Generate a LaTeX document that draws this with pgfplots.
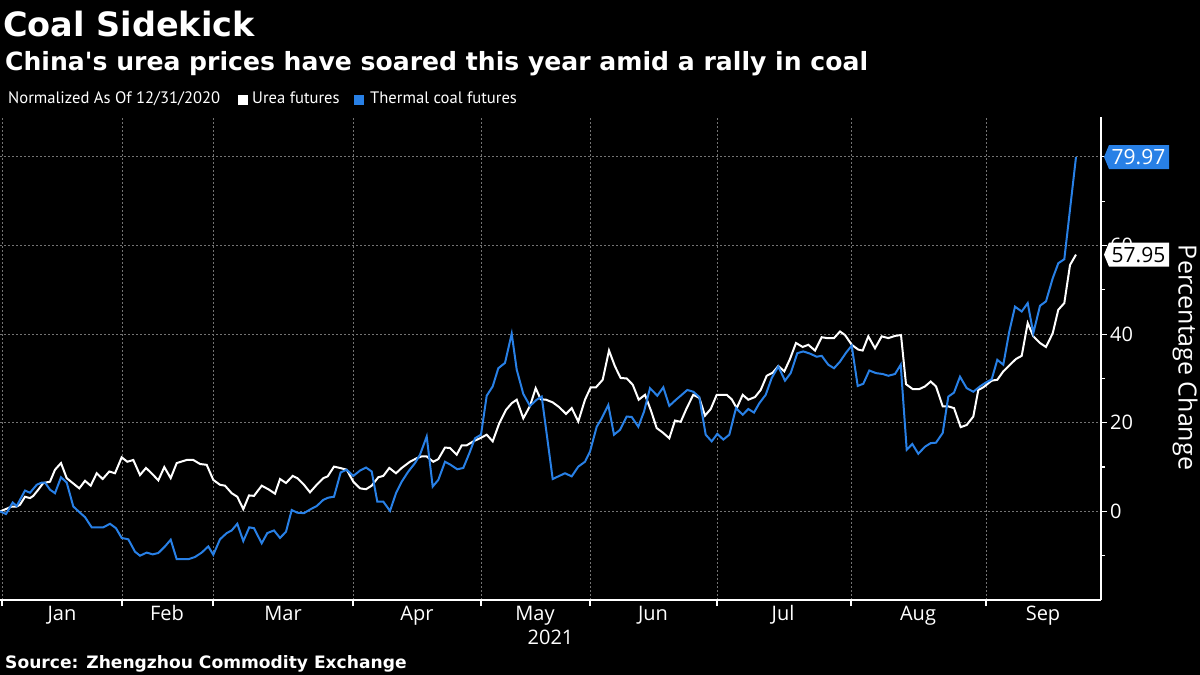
\documentclass[border=0pt]{standalone}
\usepackage{fontspec}
\setmainfont{Open Sans}
\newfontfamily\dejavu{DejaVu Sans}
\newfontfamily\ptsans{PT Sans}
\usepackage{pgfplots}
\pgfplotsset{compat=1.18}
\definecolor{coal}{RGB}{40,128,230}
\definecolor{gridc}{RGB}{115,115,115}

\pgfplotstableread{
x v
0 0
6.7 0.6
11.7 1.1
16.7 1.1
20 1.5
25 3.3
30 3.0
33.3 3.5
38.3 4.9
43.3 6.4
50 6.7
55 9.4
61 10.9
66.7 7.5
72.7 6.4
79.3 5.2
85 6.9
90.7 5.8
96.7 8.6
102.7 7.3
109.3 9.0
115 8.6
121.7 12.2
127.3 11.2
133.3 11.6
140 8.2
146 9.8
152 8.5
158.3 7.0
164.3 10.0
170.7 7.5
176.7 10.9
186.7 11.6
193.3 11.6
200 10.7
206.7 10.5
213.3 7.1
220 6.0
225 5.8
231.7 4.1
237.3 3.3
243.3 0.5
249 3.6
254 3.5
261.7 5.8
268.3 5.0
275 4.0
280 7.3
286 6.4
292.7 8.0
297.3 7.5
304 6.0
310 4.3
316.7 6.0
323.3 7.5
327.7 7.9
334 10.1
340 9.8
346.7 9.4
353.3 6.7
360 5.2
366 5.0
371.7 5.8
378.3 7.7
383.3 8.0
389.3 9.8
396 8.6
401.7 9.8
410 11.2
416.7 12.0
421.7 12.4
426.7 12.4
433.3 11.2
438.3 11.8
445 14.4
450 14.3
456.7 12.8
461.7 14.9
466.7 14.9
473.3 15.8
480 16.5
486.7 17.3
492.7 15.8
499.3 19.9
506 22.9
511.7 24.4
516.7 25.2
523.3 21.0
530 23.8
535.7 27.8
540.7 25.3
546 25.2
552.7 24.6
559.3 23.5
566 22.0
571.7 23.3
578.3 20.3
585 25.2
590.7 28.0
596 28.0
602.7 29.7
609 36.3
615 32.7
620.7 30.1
626.7 30.0
632.7 28.6
638.7 25.2
645 26.3
650.7 22.9
656.7 18.8
662.7 17.8
669.3 16.5
675 20.5
680.7 20.2
686.7 23.3
693.3 26.3
699.3 25.6
705 21.6
710.7 23.1
716.7 26.3
726.7 26.3
731.7 25.3
736.7 23.3
742.7 26.3
748.3 25.2
755 25.8
760.7 27.4
766.7 30.6
772.7 31.3
778.3 32.8
784.3 31.6
790 34.4
796 38.0
802.7 37.1
808.3 37.6
815 36.3
821.7 39.3
827.3 39.1
834 39.1
840 40.6
845 39.8
851.7 37.6
858.3 36.5
862.7 36.3
868.3 39.5
875 36.8
881.7 39.5
888.3 39.1
895 39.6
901 39.8
906 28.7
912.7 27.6
919.3 27.6
925 28.2
930.7 29.3
936 28.2
942.7 23.7
948.3 23.7
954 23.3
960.7 19.0
966.7 19.5
973.3 21.4
978.3 27.4
983.3 28.0
991.7 29.5
997.3 29.7
1003.3 31.6
1010 33.1
1016 34.4
1021.7 35.1
1027.7 42.5
1033.3 39.5
1040 38.0
1046 37.1
1052.7 40.2
1058.3 45.5
1064.3 47.0
1070 55.6
1076 57.95
}\urea

\pgfplotstableread{
x v
0 0
6 -0.6
12.7 2.0
16.7 1.2
25 4.7
30 4.2
36.7 6.0
41.7 6.5
45 6.5
50 4.9
55 4.1
61 7.7
66.7 6.5
73.3 1.1
80 -0.3
85 -1.3
91.7 -3.6
103.3 -3.6
110 -2.8
116 -3.8
121.7 -6.0
128.3 -6.3
135 -9.1
140 -10.0
146.7 -9.3
152.7 -9.7
158.3 -9.4
165 -7.9
170.7 -6.4
176.7 -10.8
188.3 -10.8
195 -10.3
201.7 -9.3
208.3 -7.9
213.3 -9.8
220 -6.3
226.7 -4.9
231.7 -4.3
237.3 -2.8
243.3 -6.7
249.3 -3.6
254 -3.8
261.7 -7.2
267.3 -4.9
274 -4.3
280 -6.0
286 -4.6
291.7 0.3
297.3 -0.3
304 -0.4
310.7 0.5
316.7 1.2
323.3 2.6
328.3 3.1
334 3.3
340.7 8.8
346.7 9.4
353.3 8.0
360 9.2
366 9.9
371.7 9.0
377.3 2.2
383.3 2.2
390 0.1
396 4.1
401.7 6.7
408.3 9.0
415 10.9
420 12.8
426.7 16.9
432.7 5.6
438.3 7.1
445 11.2
450.7 10.5
457.3 9.5
463.3 9.8
469.3 13.1
475 16.5
481 17.3
486.7 26.1
492.7 28.2
498.3 32.3
505 33.5
511.7 40.1
516.7 32.0
523.3 26.5
530 23.8
536.7 25.2
541.7 25.9
552.7 7.3
558.3 7.9
565 8.6
571.7 7.9
578.3 10.1
585 11.2
590 13.5
596.7 19.1
601.7 21.0
608.3 24.0
614 17.3
620 18.4
626.7 21.4
631.7 21.3
638.3 19.1
644 22.5
650 27.8
657.3 26.1
663.3 28.0
669.3 23.8
676 25.2
681.7 26.3
687.3 27.4
693.3 27.0
699.3 25.8
705.7 17.3
711.7 15.8
717.3 17.5
723.3 16.2
729.3 17.3
736 23.3
742.7 21.8
748.3 23.1
754 22.3
759.3 24.4
765.7 26.3
771.7 30.1
778.3 32.7
785 29.5
790.7 31.2
797.3 35.7
803.3 36.1
810 35.6
816.7 34.9
821.7 35.1
828.3 33.1
834 32.3
840 33.8
846 35.8
851.7 37.4
857.7 28.3
863.3 28.8
869.3 31.8
876 31.2
882.7 31.0
888.3 30.6
895 31.0
900.7 33.1
906.7 13.9
912.3 15.2
918.3 13.0
925 14.6
930.7 15.4
936 15.5
942.7 17.7
948.3 25.9
954 26.8
960 30.4
966.7 27.8
973.3 27.0
980 28.2
986 29.1
991.7 29.8
997.3 34.2
1003.3 33.1
1009.3 40.6
1015 46.2
1021.7 45.1
1027.7 47.0
1033.3 40.2
1040 46.4
1046 47.4
1052.7 52.6
1058.3 56.0
1064.3 56.9
1076 79.97
}\coal

\begin{document}
\begin{tikzpicture}[x=1pt,y=1pt]
\path[use as bounding box, fill=black] (0,0) rectangle (1200,675);
\node[anchor=base west, text=white, font=\dejavu\bfseries\fontsize{33.5}{40}\selectfont, inner sep=0] at (3,638) {Coal Sidekick};
\node[anchor=base west, text=white, font=\dejavu\bfseries\fontsize{25.1}{30}\selectfont, inner sep=0] at (5,604) {China\textquotesingle s urea prices have soared this year amid a rally in coal};
\node[anchor=base west, text=white, font=\ptsans\fontsize{16.6}{20}\selectfont, inner sep=0] at (8,571) {Normalized As Of 12/31/2020};
\fill[white] (238,570) rectangle (248,580);
\node[anchor=base west, text=white, font=\ptsans\fontsize{16.6}{20}\selectfont, inner sep=0] at (252,571) {Urea futures};
\fill[coal] (354,570) rectangle (364,580);
\node[anchor=base west, text=white, font=\ptsans\fontsize{16.6}{20}\selectfont, inner sep=0] at (370,571) {Thermal coal futures};
\node[anchor=base west, text=white, font=\dejavu\bfseries\fontsize{17.1}{22}\selectfont, inner sep=0] at (5,6) {Source: Zhengzhou Commodity Exchange};
\node[rotate=-90, text=white, font=\fontsize{25}{28}\selectfont, inner sep=0] at (1185,317.5) {Percentage Change};

\begin{axis}[
  at={(0pt,75pt)}, anchor=south west, scale only axis,
  width=1101pt, height=483pt,
  xmin=0, xmax=1101, ymin=-20, ymax=89,
  axis x line*=bottom, axis y line*=right,
  axis line style={white, line width=1.2pt},
  tick style={white, line width=1.2pt},
  tick align=outside,
  major tick length=6pt, minor tick length=4pt,
  xtick={2,122,213,353,481,590,717,851,986},
  xticklabels={},
  extra x ticks={62,167,283,417,535,653,783,918,1043},
  extra x tick labels={Jan,Feb,Mar,Apr,May,Jun,Jul,Aug,Sep},
  extra x tick style={major tick length=0pt, grid=none,
     xticklabel style={anchor=base, yshift=-20pt}},
  ytick={0,20,40,60,80},
  minor ytick={-10,10,30,50,70},
  xmajorgrids, ymajorgrids,
  major grid style={gridc, dash pattern=on 2pt off 2pt, line width=0.8pt},
  ticklabel style={text=white, font=\fontsize{20}{24}\selectfont},
  yticklabel style={anchor=west, inner sep=0pt, xshift=3pt},
  /pgf/number format/assume math mode=true,
  xlabel={2021},
  xlabel style={text=white, font=\fontsize{20}{24}\selectfont, yshift=8pt},
]
\addplot[white, line width=2pt] table[x=x, y=v] {\urea};
\addplot[coal, line width=2pt] table[x=x, y=v] {\coal};
\coordinate (L1) at (axis cs:1101,79.97);
\coordinate (L2) at (axis cs:1101,57.95);
\end{axis}
\fill[coal] ([xshift=3pt]L1) -- ++(5,12) -- ++(60,0) -- ++(0,-24) -- ++(-60,0) -- cycle;
\node[text=white, font=\fontsize{21}{24}\selectfont, inner sep=0] at ([xshift=37.5pt]L1) {79.97};
\fill[white] ([xshift=3pt]L2) -- ++(5,12) -- ++(60,0) -- ++(0,-24) -- ++(-60,0) -- cycle;
\node[text=black, font=\fontsize{21}{24}\selectfont, inner sep=0] at ([xshift=37.5pt]L2) {57.95};
\end{tikzpicture}
\end{document}
